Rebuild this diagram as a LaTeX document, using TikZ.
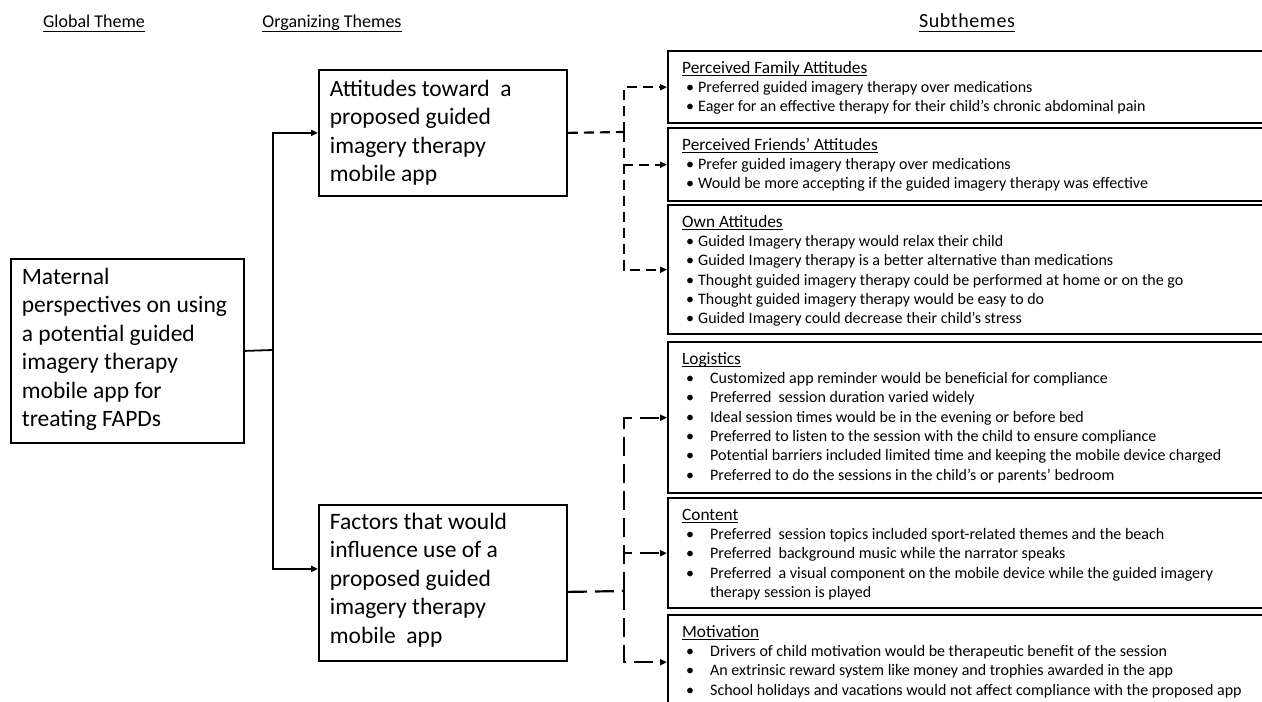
\documentclass[tikz,border=0pt]{standalone}
\usepackage{fontspec}
\setmainfont{Carlito}
\usetikzlibrary{arrows.meta}
\newcommand{\ulx}[3]{\leavevmode\setbox0=\hbox{#3}\rlap{\rule[-#1]{\wd0}{#2}}\box0}
\newcommand{\bla}[1]{\makebox[16pt][l]{\hspace*{4pt}\textbullet}#1}
\newcommand{\blb}[1]{\makebox[28pt][l]{\hspace*{4pt}\textbullet}#1}
\newcommand{\subttl}[1]{\rule{0pt}{22pt}{\fontsize{17.3}{19.3}\selectfont\ulx{2.5pt}{0.9pt}{#1}}}
\begin{document}
\begin{tikzpicture}[x=1pt,y=-1pt,
  hdr/.style={font=\fontsize{18}{22}\selectfont, inner sep=0pt, anchor=base},
  mainbox/.style={draw, line width=1.8pt, anchor=north west, inner xsep=11pt, inner ysep=0pt, font=\fontsize{23.5}{28.5}\selectfont},
  subbox/.style={draw, line width=2.4pt, anchor=north west, inner xsep=14pt, inner ysep=0pt, font=\fontsize{16}{19.3}\selectfont},
  conn/.style={line width=1.8pt},
  tip/.style={-{Triangle[length=7pt,width=6pt]}},
  dashA/.style={line width=2.2pt, dash pattern=on 10pt off 6pt},
  dashB/.style={line width=2.2pt, dash pattern=on 19pt off 8pt},
]
\useasboundingbox (0,0) rectangle (1262,702);
\clip (0,0) rectangle (1262,702);

% headers
\node[hdr] (h1) at (94,27) {\ulx{5pt}{1.4pt}{Global Theme}};
\node[hdr] (h2) at (332,27) {\ulx{5pt}{1.4pt}{Organizing Themes}};
\node[hdr] (h3) at (967,27) {\fontsize{20}{22}\selectfont\addfontfeature{LetterSpace=3}\ulx{5pt}{1.4pt}{Subthemes}};

% main boxes
\node[mainbox] (glob) at (10,258) {\parbox[c][184pt][t]{211pt}{\rule{0pt}{25.5pt}Maternal\\ perspectives on using\\ a potential guided\\ imagery therapy\\ mobile app for\\ treating FAPDs}};
\node[mainbox] (att) at (318,69) {\parbox[c][126pt][t]{226pt}{\rule{0pt}{26.5pt}Attitudes toward\ \ a\\ proposed guided\\ imagery therapy\\ mobile app}};
\node[mainbox] (fac) at (318,504) {\parbox[c][156pt][t]{226pt}{\rule{0pt}{24.5pt}Factors that would\\ influence use of a\\ proposed guided\\ imagery therapy\\ mobile\ \ app}};

% subtheme boxes
\node[subbox] (fam) at (667,50) {\parbox[c][72pt][t]{600pt}{\subttl{Perceived Family Attitudes}\\
 \bla{Preferred guided imagery therapy over medications}\\
 \bla{Eager for an effective therapy for their child’s chronic abdominal pain}}};
\node[subbox] (fri) at (667,127) {\parbox[c][73pt][t]{600pt}{\subttl{Perceived Friends’ Attitudes}\\
 \bla{Prefer guided imagery therapy over medications}\\
 \bla{Would be more accepting if the guided imagery therapy was effective}}};
\node[subbox] (own) at (667,204) {\parbox[c][129pt][t]{600pt}{\subttl{Own Attitudes}\\
 \bla{Guided Imagery therapy would relax their child}\\
 \bla{Guided Imagery therapy is a better alternative than medications}\\
 \bla{Thought guided imagery therapy could be performed at home or on the go}\\
 \bla{Thought guided imagery therapy would be easy to do}\\
 \bla{Guided Imagery could decrease their child’s stress}}};
\node[subbox] (log) at (667,341) {\parbox[c][151pt][t]{600pt}{\subttl{Logistics}\\
 \blb{Customized app reminder would be beneficial for compliance}\\
 \blb{Preferred\ \ session duration varied widely}\\
 \blb{Ideal session times would be in the evening or before bed}\\
 \blb{Preferred to listen to the session with the child to ensure compliance}\\
 \blb{Potential barriers included limited time and keeping the mobile device charged}\\
 \blb{Preferred to do the sessions in the child’s or parents’ bedroom}}};
\node[subbox] (con) at (667,497) {\parbox[c][110pt][t]{600pt}{\subttl{Content}\\
 \blb{Preferred\ \ session topics included sport-related themes and the beach}\\
 \blb{Preferred\ \ background music while the narrator speaks}\\
 \blb{Preferred\ \ a visual component on the mobile device while the guided imagery}\\
 \hspace*{28pt}therapy session is played}};
\node[subbox] (mot) at (667,614) {\parbox[c][94pt][t]{600pt}{\subttl{Motivation}\\
 \blb{Drivers of child motivation would be therapeutic benefit of the session}\\
 \blb{An extrinsic reward system like money and trophies awarded in the app}\\
 \blb{School holidays and vacations would not affect compliance with the proposed app}}};

% solid connectors
\coordinate (sp) at (273,350);
\draw[conn] (glob.east) -- (sp);
\draw[conn,tip] (sp) |- (att.west);
\draw[conn,tip] (sp) |- ([yshift=14pt]fac.west);

% dashed connectors (attitudes)
\coordinate (d1) at (624,132);
\draw[dashA] (att.east) -- (d1);
\draw[dashA,tip] (d1) |- (fam.west);
\draw[dashA,tip] (d1) |- (fri.west);
\draw[dashA,tip] (d1) |- (own.west);

% dashed connectors (factors)
\coordinate (d2) at (624,591);
\draw[dashB] ([yshift=-9pt]fac.east) -- (d2);
\draw[dashB,tip] (d2) |- (log.west);
\draw[dashB,tip] (d2) |- (con.west);
\draw[dashB,tip] (d2) |- (mot.west);
\end{tikzpicture}
\end{document}
